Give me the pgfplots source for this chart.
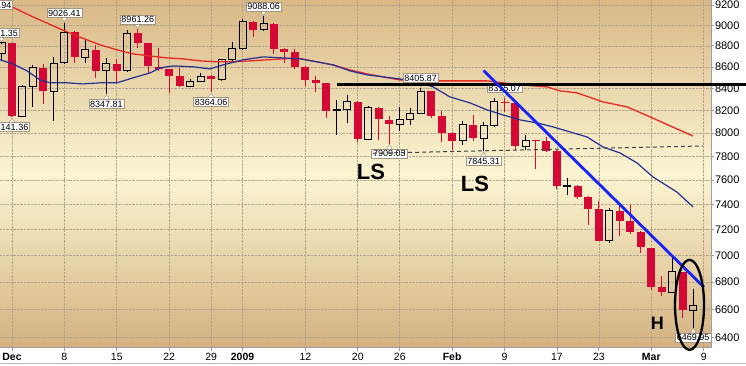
\documentclass[border=0pt]{standalone}
\usepackage{fontspec}
\setmainfont{Liberation Sans}
\usepackage{pgfplots}
\usepackage{pgfplotstable}
\pgfplotsset{compat=1.18}

\definecolor{bgtop}{RGB}{217,184,134}
\definecolor{bgmid}{RGB}{251,245,210}
\definecolor{bgbot}{RGB}{212,177,127}
\definecolor{candred}{RGB}{212,8,52}
\definecolor{mared}{RGB}{232,40,36}
\definecolor{mablue}{RGB}{36,48,150}
\definecolor{trendblue}{RGB}{24,36,245}
\definecolor{gridc}{RGB}{178,165,140}
\definecolor{lblborder}{RGB}{165,150,130}

% up (hollow) candles: index (Dec 1 2008 = 0), open, high, low, close
\pgfplotstableread{
i o h l c
-1 8726 8831.35 8665 8829
1 8149 8430 8142 8419
2 8419 8620 8230 8591
4 8376 8695 8105 8635
5 8637 9026.41 8630 8934
7 8693 8865 8634 8761
9 8565 8684 8347.81 8630
11 8564 8955 8560 8924
17 8420 8485 8410 8468
18 8468 8544 8460 8515
20 8484 8672 8470 8668
21 8668 8842 8660 8776
22 8772 9065 8760 9034
24 8954 9088.06 8940 9015
31 8197 8296 7985 8212
32 8212 8338 8087 8281
34 7949 8242 7940 8228
37 8078 8230 8015 8116
38 8117 8221 8073 8175
39 8175 8405.87 8170 8375
43 7937 8111 7900 8078
45 7954 8101 7845.31 8063
46 8063 8312 8050 8281
49 7889 7985 7855 7940
53 7546 7620 7479 7556
57 7115 7371 7100 7351
63 6726 6985 6718 6876
65 6595 6749 6469.95 6627
}\up

% down (red) candles
\pgfplotstableread{
i o h l c
0 8829 8831 8141.36 8149
3 8591 8628 8257 8376
6 8934 8940 8634 8691
8 8761 8813 8500 8565
10 8628 8673 8463 8564
12 8921 8961.26 8776 8824
13 8824 8830 8544 8605
14 8604 8782 8562 8579
15 8579 8585 8363 8519
16 8519 8594 8410 8419
19 8515 8525 8364.06 8484
23 9034 9040 8890 8953
25 9015 9020 8720 8770
26 8770 8780 8634 8742
27 8738 8774 8580 8599
28 8599 8605 8419 8474
29 8474 8519 8372 8449
30 8446 8450 8131 8200
33 8279 8285 7927 7949
35 8225 8230 7942 8123
36 8116 8152 7909.03 8078
40 8373 8380 8135 8149
41 8149 8197 7927 8001
42 7999 8010 7855 7937
44 8070 8161 7935 7957
47 8281 8315.07 8191 8271
48 8269 8275 7852 7889
50 7939 7945 7691 7933
51 7933 7965 7840 7850
52 7845 7852 7530 7553
54 7555 7560 7445 7466
55 7461 7470 7238 7366
56 7366 7430 7108 7115
58 7350 7389 7147 7271
59 7270 7397 7165 7182
60 7180 7190 7021 7063
61 7056 7060 6745 6763
62 6764 6844 6694 6726
64 6874 6875 6536 6594
}\dn

\pgfplotsset{
  ebar/.style 2 args={draw=none, mark=none, forget plot,
    error bars/y dir=minus, error bars/y explicit, error bars/error mark=none,
    error bars/error bar style={draw=#1, line width=#2, solid, line cap=butt}},
}
\tikzset{
  lbl/.style={draw=lblborder, fill=white, line width=0.5pt, inner xsep=1.3pt, inner ysep=1.2pt,
    font=\fontsize{9}{10}\selectfont, text height=6.6pt, text depth=0pt},
}

\newcommand{\hilab}[2]{%
  \filldraw[fill=white, draw=lblborder, line width=0.5pt] ([yshift=0.8pt]axis cs:#1,#2) -- ++(-3pt,4.6pt) -- ++(6pt,0pt) -- cycle;
  \node[lbl, anchor=south, yshift=5pt] at (axis cs:#1,#2) {#2};}
\newcommand{\lolab}[2]{%
  \filldraw[fill=white, draw=lblborder, line width=0.5pt] ([yshift=-0.8pt]axis cs:#1,#2) -- ++(-3pt,-4.6pt) -- ++(6pt,0pt) -- cycle;
  \node[lbl, anchor=north, yshift=-5pt] at (axis cs:#1,#2) {#2};}

\begin{document}
\begin{tikzpicture}
\useasboundingbox (0,0) rectangle (746pt,366pt);
\fill[white] (0,0) rectangle (746pt,366pt);
\clip (0,0) rectangle (746pt,366pt);
\draw[gray!55, line width=0.8pt] (0,3pt) -- (746pt,3pt);
\begin{axis}[
  at={(0pt,18pt)}, anchor=south west,
  scale only axis, width=711pt, height=348pt,
  xmin=-1.145, xmax=66.70,
  ymode=log, ymin=6328.4, ymax=9253,
  clip=false,
  axis x line*=bottom, axis y line*=right,
  axis line style={draw=gray!75, line width=0.8pt},
  xtick={0,5,10,15,19,22,28,33,37,42,47,52,56,61,66},
  xticklabels={\textbf{Dec},8,15,22,29,\textbf{2009},12,20,26,\textbf{Feb},9,17,23,\textbf{Mar},9},
  ytick={6400,6600,6800,7000,7200,7400,7600,7800,8000,8200,8400,8600,8800,9000,9200},
  yticklabels={6400,6600,6800,7000,7200,7400,7600,7800,8000,8200,8400,8600,8800,9000,9200},
  yminorticks=false, xminorticks=false,
  xmajorgrids, ymajorgrids,
  grid style={densely dotted, draw=gridc, line width=0.7pt},
  tick align=outside, major tick length=3pt,
  tick style={draw=gray!75, line width=0.8pt},
  xticklabel style={font=\fontsize{10.5}{12}\selectfont, text height=7.5pt, inner ysep=1.5pt},
  yticklabel style={font=\fontsize{11}{13}\selectfont, inner xsep=0.8pt},
  axis background/.style={top color=bgtop, bottom color=bgbot, middle color=bgmid},
]
% red candles: wicks and bodies
\addplot[ebar={candred}{1pt}] table[x=i, y=h, y error minus expr=\thisrow{h}-\thisrow{l}] {\dn};
\addplot[ebar={candred}{8pt}] table[x=i, y=o, y error minus expr=\thisrow{o}-\thisrow{c}] {\dn};
% hollow candles: wicks
\addplot[ebar={black}{1pt}] table[x=i, y=h, y error minus expr=\thisrow{h}-\thisrow{c}] {\up};
\addplot[ebar={black}{1pt}] table[x=i, y=o, y error minus expr=\thisrow{o}-\thisrow{l}] {\up};
% hollow candles: body outlines
\addplot[ebar={black}{1pt}] table[x expr=\thisrow{i}-0.334, y=c, y error minus expr=\thisrow{c}-\thisrow{o}] {\up};
\addplot[ebar={black}{1pt}] table[x expr=\thisrow{i}+0.334, y=c, y error minus expr=\thisrow{c}-\thisrow{o}] {\up};
\addplot[black, only marks, mark=-, mark size=4pt, mark options={solid, line width=1pt}, forget plot] table[x=i, y=o] {\up};
\addplot[black, only marks, mark=-, mark size=4pt, mark options={solid, line width=1pt}, forget plot] table[x=i, y=c] {\up};

% moving averages
\addplot[mared, line width=1.3pt, line join=round] coordinates {
(-1.15,9233) (0,9183) (2,9083) (5.25,8935) (7.16,8858) (8.4,8810) (10.02,8762) (11.55,8723) (13.17,8704) (14.79,8685) (16.32,8676) (17.94,8657) (19.56,8648) (21.09,8648) (22.71,8657) (24.33,8667) (25.86,8676) (27.19,8685) (29.1,8648) (30.63,8619) (32.25,8572) (33.87,8535) (35.4,8507) (37.02,8479) (38.65,8470) (40.17,8470) (42.08,8470) (45.32,8470) (48.47,8433) (51.05,8415) (52.29,8378) (53.91,8360) (56.39,8278) (58.68,8233) (60.88,8144) (62.79,8064) (64.98,7976)};
\addplot[mablue, line width=1.2pt, line join=round] coordinates {
(-1.15,8667) (0.1,8629) (1.43,8563) (2.67,8479) (3.63,8452) (5.25,8452) (6.77,8442) (8.4,8452) (10.02,8452) (11.55,8498) (13.17,8544) (14.12,8591) (15.36,8610) (17.27,8601) (18.89,8582) (20.13,8619) (22.04,8667) (23.95,8695) (25.86,8685) (27.48,8676) (29.1,8648) (30.63,8619) (32.25,8563) (33.87,8526) (35.4,8507) (37.02,8488) (38.65,8461) (40.17,8415) (41.79,8323) (43.7,8269) (45.32,8206) (46.85,8161) (48.47,8117) (50.1,8090) (51.62,8055) (53.24,8011) (54.87,7968) (56.39,7881) (58.02,7830) (59.64,7745) (61.16,7627) (63.45,7503) (64.98,7382)};

% value labels
\node[lbl, anchor=center] at (axis cs:-1.62,9203) {9134.94};
\hilab{-1}{8831.35}
\hilab{5}{9026.41}
\hilab{12}{8961.26}
\hilab{24}{9088.06}
\hilab{39}{8405.87}
\hilab{47}{8315.07}
\lolab{0}{8141.36}
\lolab{9}{8347.81}
\lolab{19}{8364.06}
\lolab{36}{7909.03}
\lolab{45}{7845.31}
\lolab{65}{6469.95}

% drawn annotations
\addplot[black, line width=3pt] coordinates {(31.0,8440) (70.5,8440)};
\addplot[black!75, line width=1pt, dash pattern=on 4pt off 3pt] coordinates {(34.45,7827) (65.94,7890)};
\addplot[trendblue, line width=2.8pt] coordinates {(45.0,8566) (66.03,6762)};
\draw[black, line width=2.3pt] (axis cs:64.65,6633) ellipse [x radius=14.5pt, y radius=45pt];
\node[font=\bfseries\fontsize{22}{24}\selectfont] at (axis cs:34.26,7669) {LS};
\node[font=\bfseries\fontsize{22}{24}\selectfont] at (axis cs:44.18,7569) {LS};
\node[font=\bfseries\fontsize{18}{20}\selectfont] at (axis cs:61.59,6500) {H};
\end{axis}
\end{tikzpicture}
\end{document}
